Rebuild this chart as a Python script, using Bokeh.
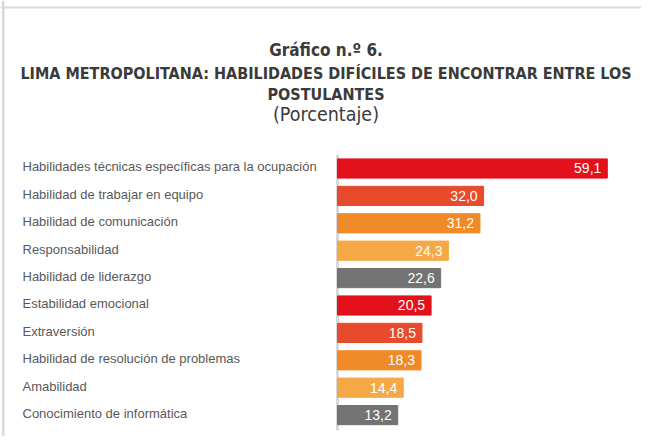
from bokeh.plotting import figure
from bokeh.models import Range1d, Span, ColumnDataSource
from bokeh.core.properties import value
from bokeh.embed import file_html
from bokeh.resources import INLINE

categories = [
    "Habilidades técnicas específicas para la ocupación",
    "Habilidad de trabajar en equipo",
    "Habilidad de comunicación",
    "Responsabilidad",
    "Habilidad de liderazgo",
    "Estabilidad emocional",
    "Extraversión",
    "Habilidad de resolución de problemas",
    "Amabilidad",
    "Conocimiento de informática",
]
values = [59.1, 32.0, 31.2, 24.3, 22.6, 20.5, 18.5, 18.3, 14.4, 13.2]
palette = ["#E2111B", "#E84B2C", "#F08A29", "#F5A946", "#737373"]
colors = [palette[i % len(palette)] for i in range(len(values))]
value_labels = [f"{v:.1f}".replace(".", ",") for v in values]
rows = list(range(len(categories)))

title_lines = [
    "Gráfico n.º 6.",
    "LIMA METROPOLITANA: HABILIDADES DIFÍCILES DE ENCONTRAR ENTRE LOS",
    "POSTULANTES",
    "(Porcentaje)",
]

src = ColumnDataSource(dict(y=rows, v=values, c=colors, lab=value_labels, cat=categories))

NARROW = "DejaVu Sans Condensed, DejaVu Sans"

p = figure(width=641, height=436, output_backend="svg", toolbar_location=None,
           x_range=Range1d(-73.82, 66.59), y_range=Range1d(9.781, -6.131),
           x_axis_location=None, y_axis_location=None, min_border=0,
           background_fill_color="white", border_fill_color="white")
p.grid.visible = False
p.outline_line_color = None

# card border (left and top)
p.add_layout(Span(location=-73.22, dimension="height", line_color="#dadada", line_width=2.5))
p.add_layout(Span(location=-5.876, dimension="width", line_color="#dadada", line_width=2))

# axis line
p.segment(x0=[0], x1=[0], y0=[-0.5], y1=[len(values) - 0.45], line_color="#d9d9d9", line_width=3)

p.hbar(y="y", right="v", left=0, height=0.7, color="c", source=src)

p.text(x="v", y="y", text="lab", source=src, text_color="white", text_align="right",
       text_baseline="middle", x_offset=-6, text_font=value("Liberation Sans"),
       text_font_size="14px")

p.text(x=-69.0, y="y", text="cat", source=src, text_color="#595959", text_align="left",
       text_baseline="middle", y_offset=-1.5, text_font=value("Liberation Sans"),
       text_font_size="13px")

cx = -2.52
p.text(x=[cx], y=[-4.307], text=[title_lines[0]], text_align="center", text_baseline="middle",
       text_font=value(NARROW), text_font_style="bold", text_font_size="17px", text_color="#3a3a3a")
p.text(x=[cx, cx], y=[-3.467, -2.701], text=title_lines[1:3], text_align="center",
       text_baseline="middle", text_font=value(NARROW), text_font_style="bold",
       text_font_size="16px", text_color="#3a3a3a")
p.text(x=[cx], y=[-1.971], text=[title_lines[3]], text_align="center", text_baseline="middle",
       text_font=value(NARROW), text_font_size="19.5px", text_color="#3a3a3a")

open("out.html", "w").write(file_html(p, INLINE))
